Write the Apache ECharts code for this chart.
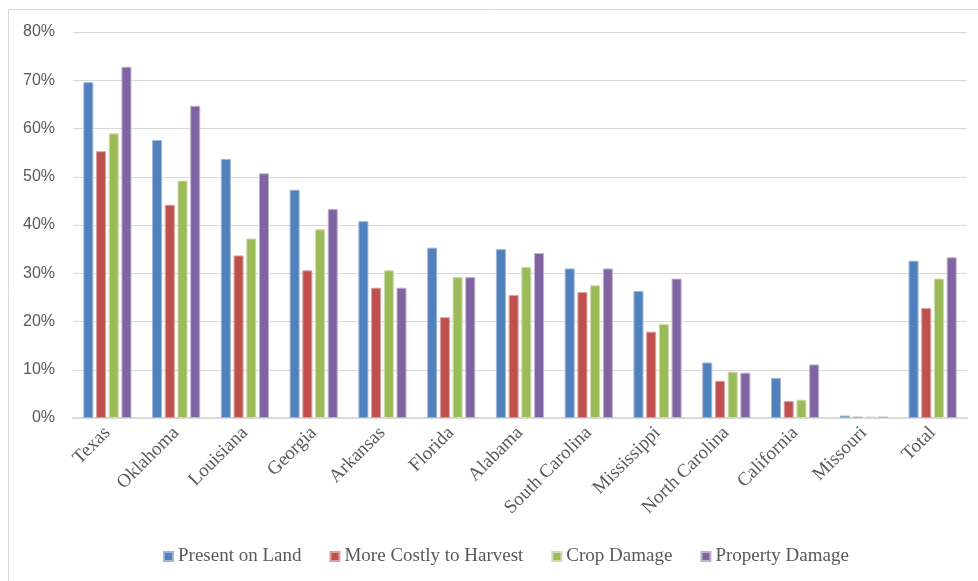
<!DOCTYPE html>
<html>
<head>
<meta charset="utf-8">
<script src="https://cdn.jsdelivr.net/npm/echarts@6/dist/echarts.min.js"></script>
<style>
html,body{margin:0;padding:0;background:#fff;}
#chart{width:978px;height:581px;}
</style>
</head>
<body>
<div id="chart"></div>
<script>
const categories = ["Texas","Oklahoma","Louisiana","Georgia","Arkansas","Florida","Alabama","South Carolina","Mississippi","North Carolina","California","Missouri","Total"];
const presentOnLand = [69.6,57.6,53.7,47.3,40.8,35.3,35.0,31.0,26.3,11.5,8.3,0.5,32.6];
const moreCostly = [55.3,44.2,33.7,30.6,27.0,20.9,25.5,26.1,17.9,7.7,3.5,0.3,22.8];
const cropDamage = [59.0,49.2,37.2,39.1,30.6,29.2,31.3,27.5,19.5,9.6,3.8,0.3,28.9];
const propertyDamage = [72.8,64.7,50.7,43.3,27.0,29.2,34.2,31.0,28.9,9.4,11.1,0.3,33.3];
const yTicks = [0,10,20,30,40,50,60,70,80];

const seriesDefs = [
  {name:"Present on Land", data:presentOnLand, color:"#4F81BD", border:"#9DB6D9"},
  {name:"More Costly to Harvest", data:moreCostly, color:"#C0504D", border:"#DDA09E"},
  {name:"Crop Damage", data:cropDamage, color:"#9BBB59", border:"#CDDDAC"},
  {name:"Property Damage", data:propertyDamage, color:"#8064A2", border:"#C0B2D1"}
];

const chart = echarts.init(document.getElementById('chart'), null, {renderer:'canvas'});
chart.setOption({
  animation:false,
  backgroundColor:'#fff',
  graphic:[{type:'rect', shape:{x:8.5,y:9.5,width:1000,height:700}, style:{fill:'none', stroke:'#d9d9d9', lineWidth:1}, silent:true}],
  grid:{left:73, right:11, top:32, bottom:163, containLabel:false},
  legend:{
    bottom:10, left:158,
    itemWidth:9, itemHeight:9, itemGap:28,
    icon:'rect',
    textStyle:{fontFamily:'Liberation Serif', fontSize:19, color:'#595959'},
    data:seriesDefs.map(s=>s.name)
  },
  xAxis:{
    type:'category', data:categories,
    axisLine:{show:true, lineStyle:{color:'#d9d9d9', width:2}},
    axisTick:{show:false},
    axisLabel:{rotate:45, interval:0, margin:12, fontFamily:'Liberation Serif', fontSize:19, color:'#595959'}
  },
  yAxis:{
    type:'value', min:yTicks[0], max:yTicks[yTicks.length-1], interval:10,
    axisLine:{show:false}, axisTick:{show:false},
    splitLine:{lineStyle:{color:'#d9d9d9', width:1}},
    axisLabel:{formatter:v=>v+'%', margin:18, fontFamily:'Liberation Sans', fontSize:16, color:'#595959'}
  },
  series:seriesDefs.map(s=>({
    name:s.name, type:'bar', data:s.data,
    barGap:'27%', barCategoryGap:'30%',
    itemStyle:{color:s.color, borderColor:s.border, borderWidth:1},
    emphasis:{disabled:true}
  }))
});
</script>
</body>
</html>
